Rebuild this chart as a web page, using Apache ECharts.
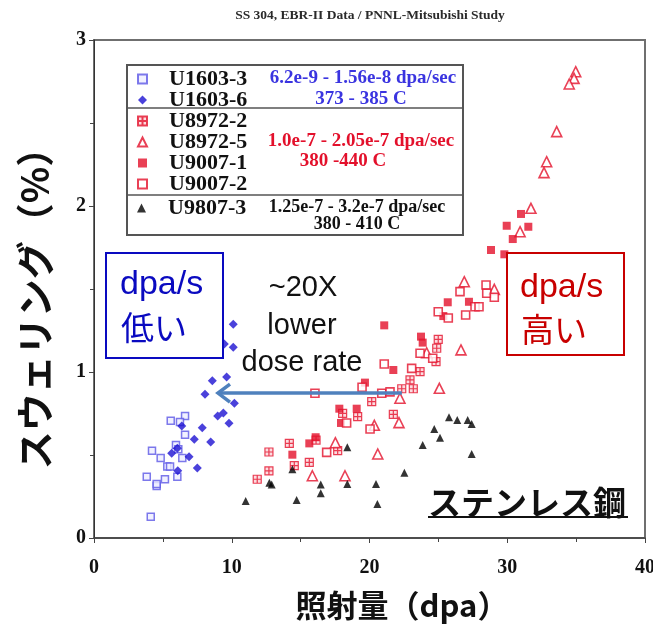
<!DOCTYPE html>
<html>
<head>
<meta charset="utf-8">
<script src="https://cdn.jsdelivr.net/npm/echarts@6/dist/echarts.min.js"></script>
<style>
  html, body { margin: 0; padding: 0; background: #fff; overflow: hidden; }
  #chart { width: 653px; height: 624px; display: block; }
</style>
</head>
<body>
<div id="chart"></div>
<script>
// Swelling (%) vs. dose (dpa) for SS 304 specimens irradiated in EBR-II.
// Each array holds [dose (dpa), swelling (%)] pairs.
const U1603_3 = [
  [6.61,0.735],[5.57,0.707],[6.24,0.699],[6.61,0.622],[5.95,0.560],[6.12,0.534],
  [4.21,0.526],[4.84,0.482],[6.41,0.482],[5.32,0.430],[5.52,0.430],[3.83,0.369],
  [5.15,0.354],[6.05,0.369],[4.55,0.313],[4.55,0.325],[4.12,0.128]
];
const U1603_6 = [
  [10.11,1.287],[9.46,1.169],[10.11,1.149],[9.07,1.107],[8.59,0.948],[9.63,0.970],
  [8.06,0.866],[10.19,0.811],[8.98,0.735],[9.39,0.753],[9.80,0.691],[7.86,0.664],
  [6.37,0.675],[7.28,0.595],[8.47,0.578],[5.64,0.510],[6.90,0.490],[6.05,0.540],
  [7.50,0.422],[6.08,0.405]
];
const U8972_2 = [
  [12.70,0.518],[12.70,0.404],[11.85,0.354],[14.18,0.570],[16.12,0.590],[17.69,0.526],
  [14.54,0.436],[15.63,0.456],[18.05,0.751],[19.14,0.731],[20.16,0.821],[21.73,0.745],
  [22.34,0.899],[23.18,0.899],[22.94,0.952],[23.67,1.002],[24.99,1.197],[24.88,1.143],
  [24.83,1.062]
];
const U8972_5 = [
  [24.15,1.116],[22.21,0.842],[22.14,0.695],[20.35,0.679],[17.52,0.574],[20.60,0.506],
  [15.85,0.375],[18.22,0.375],[34.97,2.809],[34.85,2.769],[34.50,2.735],[33.59,2.448],
  [32.86,2.267],[32.67,2.201],[31.72,1.986],[30.93,1.845],[26.88,1.544],[29.06,1.498],
  [26.64,1.133],[25.07,0.902]
];
const U9007_1 = [
  [21.07,1.281],[23.74,1.213],[23.86,1.177],[21.73,1.012],[19.67,0.936],[17.81,0.779],
  [19.07,0.779],[17.93,0.693],[16.09,0.607],[15.63,0.570],[14.40,0.502],[31.00,1.952],
  [29.96,1.881],[31.53,1.875],[30.40,1.801],[28.82,1.735],[29.79,1.709],[25.68,1.420],
  [27.22,1.423],[25.36,1.337]
];
const U9007_2 = [
  [21.07,1.048],[23.06,1.022],[23.67,1.113],[19.46,0.908],[16.04,0.872],[20.89,0.872],
  [21.49,0.880],[18.34,0.693],[20.04,0.657],[16.89,0.516],[26.57,1.484],[28.46,1.524],
  [28.51,1.474],[29.06,1.450],[27.66,1.393],[27.95,1.393],[26.98,1.343],[24.99,1.363],
  [25.72,1.325],[24.59,1.083]
];
const U9807_3 = [
  [18.39,0.546],[23.86,0.560],[14.40,0.414],[22.53,0.393],[12.73,0.333],[12.90,0.323],
  [16.46,0.323],[18.39,0.325],[20.47,0.325],[16.46,0.269],[14.71,0.229],[11.01,0.223],
  [20.57,0.205],[25.77,0.727],[26.37,0.711],[27.13,0.711],[27.42,0.687],[24.70,0.657],
  [25.12,0.604],[27.42,0.506]
];

const xTicks = [0, 10, 20, 30, 40];
const yTicks = [0, 1, 2, 3];

// Horizontal arrow: from the high-rate cloud back to the low-rate cloud
const arrowFrom = [22.35, 0.873];
const arrowTo = [9.0, 0.873];

const RED = '#e3102b';
const BLUE = '#1d12d2';
const SERIF = '"Liberation Serif", "DejaVu Serif", serif';
const SANS = '"Liberation Sans", Arial, sans-serif';
const CJK = '"Noto Sans CJK JP", "Noto Sans", sans-serif';

const crossedSquare = 'path://M0,0H10V10H0Z M5,0V10 M0,5H10';

function mk(name, data, symbol, size, fill, stroke, bw) {
  return {
    name, type: 'scatter', data, symbol, symbolSize: size,
    itemStyle: { color: fill, borderColor: stroke, borderWidth: bw },
    emphasis: { disabled: true }, z: 3
  };
}

const chart = echarts.init(document.getElementById('chart'), null, { renderer: 'canvas' });

const legendText = { fontFamily: SERIF, fontWeight: 'bold', fontSize: 22, color: '#111', lineHeight: 20, padding: [0, 0, 0, 17] };

const option = {
  animation: false,
  backgroundColor: '#fff',
  grid: {
    left: 94, top: 40, right: 8, bottom: 86,
    outerBoundsMode: 'none', containLabel: false,
    show: true, borderColor: '#6f6f6f', borderWidth: 2, backgroundColor: 'transparent'
  },
  legend: [{
    orient: 'vertical', left: 137, top: 68, padding: 0,
    itemWidth: 9, itemHeight: 9, itemGap: -1,
    data: ['U1603-3', 'U1603-6', 'U8972-2', 'U8972-5', 'U9007-1', 'U9007-2'],
    textStyle: legendText,
    selectedMode: false, z: 10
  }, {
    orient: 'vertical', left: 137, top: 197, padding: 0,
    itemWidth: 9, itemHeight: 9,
    data: ['U9807-3'],
    textStyle: legendText,
    selectedMode: false, z: 10
  }],
  xAxis: {
    type: 'value', min: xTicks[0], max: xTicks[xTicks.length - 1], interval: 10,
    axisLine: { lineStyle: { color: '#444', width: 1.5 } },
    axisTick: { inside: false, length: 5, lineStyle: { color: '#444' } },
    minorTick: { show: true, splitNumber: 2, length: 4, lineStyle: { color: '#444' } },
    splitLine: { show: false },
    axisLabel: { fontFamily: SERIF, fontWeight: 'bold', fontSize: 20, color: '#111', margin: 20 }
  },
  yAxis: {
    type: 'value', min: yTicks[0], max: yTicks[yTicks.length - 1], interval: 1,
    axisLine: { show: true, lineStyle: { color: '#333', width: 1 } },
    axisTick: { inside: false, length: 5, lineStyle: { color: '#444' } },
    minorTick: { show: true, splitNumber: 2, length: 4, lineStyle: { color: '#444' } },
    splitLine: { show: false },
    axisLabel: { fontFamily: SERIF, fontWeight: 'bold', fontSize: 20, color: '#111', margin: 8 }
  },
  series: [
    mk('U1603-3', U1603_3, 'rect', 7, '#eeeeff', '#5c58e6', 1.5),
    mk('U1603-6', U1603_6, 'diamond', 9, BLUE, BLUE, 0),
    mk('U8972-2', U8972_2, crossedSquare, 8, '#fbd3d8', RED, 1.2),
    mk('U8972-5', U8972_5, 'triangle', 10, '#ffffff', RED, 1.6),
    mk('U9007-1', U9007_1, 'rect', 8, RED, RED, 0),
    mk('U9007-2', U9007_2, 'rect', 8, '#ffffff', RED, 1.6),
    mk('U9807-3', U9807_3, 'triangle', 8, '#000000', '#000000', 0)
  ]
};

chart.setOption(option);

// Annotations: title, axis names, legend frame with rate/temperature notes, callout boxes and the arrow
const p0 = chart.convertToPixel({ gridIndex: 0 }, arrowFrom);
const p1 = chart.convertToPixel({ gridIndex: 0 }, arrowTo);
const ARROW = '#4f81bd';

chart.setOption({
  graphic: [
    { type: 'text', z: 7, style: { text: 'SS 304, EBR-II Data / PNNL-Mitsubishi Study', x: 370, y: 16,
      align: 'center', verticalAlign: 'middle', font: 'bold 13.5px ' + SERIF, fill: '#2a2a2a' } },

    // axis names
    { type: 'text', z: 7, x: 402, y: 605, style: { text: '照射量（dpa）', x: 0, y: 0,
      align: 'center', verticalAlign: 'middle', font: 'bold 31px ' + CJK, fill: '#111' } },
    { type: 'text', z: 7, x: 35, y: 299, rotation: Math.PI / 2, style: { text: 'スウェリング（%）', x: 0, y: 0,
      align: 'center', verticalAlign: 'middle', font: 'bold 38px ' + CJK, fill: '#111' } },

    // legend frame
    { type: 'rect', z: 5, shape: { x: 127, y: 65, width: 336, height: 170 },
      style: { fill: '#fff', stroke: '#555', lineWidth: 2 } },
    { type: 'line', z: 6, shape: { x1: 127, y1: 108, x2: 463, y2: 108 }, style: { stroke: '#555', lineWidth: 1.5 } },
    { type: 'line', z: 6, shape: { x1: 127, y1: 195, x2: 463, y2: 195 }, style: { stroke: '#555', lineWidth: 1.5 } },
    { type: 'text', z: 7, style: { text: '6.2e-9 - 1.56e-8 dpa/sec', x: 363, y: 78, align: 'center', verticalAlign: 'middle',
      font: 'bold 19px ' + SERIF, fill: '#3a34e0' } },
    { type: 'text', z: 7, style: { text: '373 - 385 C', x: 361, y: 99, align: 'center', verticalAlign: 'middle',
      font: 'bold 19px ' + SERIF, fill: '#3a34e0' } },
    { type: 'text', z: 7, style: { text: '1.0e-7 - 2.05e-7 dpa/sec', x: 361, y: 141, align: 'center', verticalAlign: 'middle',
      font: 'bold 19px ' + SERIF, fill: RED } },
    { type: 'text', z: 7, style: { text: '380 -440 C', x: 343, y: 161, align: 'center', verticalAlign: 'middle',
      font: 'bold 19px ' + SERIF, fill: RED } },
    { type: 'text', z: 7, style: { text: '1.25e-7 - 3.2e-7 dpa/sec', x: 357, y: 207, align: 'center', verticalAlign: 'middle',
      font: 'bold 18px ' + SERIF, fill: '#111' } },
    { type: 'text', z: 7, style: { text: '380 - 410 C', x: 357, y: 224, align: 'center', verticalAlign: 'middle',
      font: 'bold 18px ' + SERIF, fill: '#111' } },

    // low dose-rate callout
    { type: 'rect', z: 5, shape: { x: 106, y: 253, width: 117, height: 105 },
      style: { fill: '#fff', stroke: '#0a0ac0', lineWidth: 2 } },
    { type: 'text', z: 6, style: { text: 'dpa/s', x: 120, y: 285, verticalAlign: 'middle',
      font: '34px ' + SANS, fill: '#0a0ac0' } },
    { type: 'text', z: 6, style: { text: '低い', x: 121, y: 327, verticalAlign: 'middle',
      font: '33px ' + CJK, fill: '#0a0ac0' } },

    // high dose-rate callout
    { type: 'rect', z: 5, shape: { x: 507, y: 253, width: 117, height: 102 },
      style: { fill: '#fff', stroke: '#c80000', lineWidth: 2 } },
    { type: 'text', z: 6, style: { text: 'dpa/s', x: 520, y: 288, verticalAlign: 'middle',
      font: '34px ' + SANS, fill: '#c80000' } },
    { type: 'text', z: 6, style: { text: '高い', x: 521, y: 329, verticalAlign: 'middle',
      font: '33px ' + CJK, fill: '#c80000' } },

    // dose-rate comment
    { type: 'text', z: 6, style: { text: '~20X', x: 303, y: 288, align: 'center', verticalAlign: 'middle',
      font: '29px ' + SANS, fill: '#111' } },
    { type: 'text', z: 6, style: { text: 'lower', x: 302, y: 326, align: 'center', verticalAlign: 'middle',
      font: '29px ' + SANS, fill: '#111' } },
    { type: 'text', z: 6, style: { text: 'dose rate', x: 302, y: 363, align: 'center', verticalAlign: 'middle',
      font: '29px ' + SANS, fill: '#111' } },

    // arrow
    { type: 'line', z: 8, shape: { x1: p0[0], y1: p0[1], x2: p1[0] + 2, y2: p1[1] },
      style: { stroke: ARROW, lineWidth: 3.5 } },
    { type: 'polyline', z: 8, shape: { points: [[p1[0] + 12, p1[1] - 9], [p1[0], p1[1]], [p1[0] + 12, p1[1] + 9]] },
      style: { stroke: ARROW, lineWidth: 3.5, fill: null, lineJoin: 'miter' } },

    // material label
    { type: 'text', z: 6, style: { text: 'ステンレス鋼', x: 428, y: 502, verticalAlign: 'middle',
      font: 'bold 33px ' + CJK, fill: '#111' } },
    { type: 'line', z: 6, shape: { x1: 428, y1: 517, x2: 628, y2: 517 }, style: { stroke: '#111', lineWidth: 2 } }
  ]
});
</script>
</body>
</html>
